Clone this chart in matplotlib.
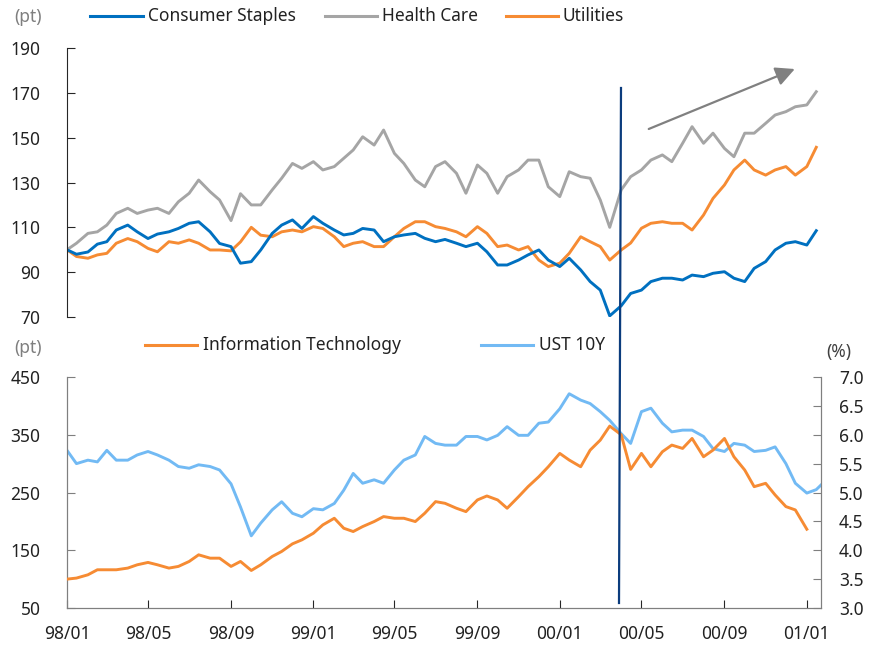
import numpy as np
import pandas as pd
import matplotlib
matplotlib.use("Agg")
import matplotlib.pyplot as plt
import matplotlib.dates as mdates
from matplotlib.lines import Line2D
from matplotlib.ticker import FormatStrFormatter

# semi-monthly observations, 98/01 .. 01/01
dates = pd.date_range("1998-01-01", periods=74, freq="SMS")
ust_dates = dates.append(pd.DatetimeIndex(["2001-01-22"]))

consumer_staples = [100, 98, 99, 102.5, 103.6, 108.8, 111, 108, 105, 107,
                    108, 109.5, 111.8, 112.5, 108, 102.8, 101.4, 94, 94.7, 99.9,
                    107.3, 111, 113.3, 109.5, 114.8, 111.8, 108.8, 106.6, 107.3, 109.5,
                    108.8, 103.6, 105.8, 106.6, 107.3, 105.1, 103.6, 104.6, 102.9, 101.4,
                    102.9, 99.1, 93.2, 93.2, 95.4, 97.7, 99.9, 95.4, 92.5, 96.2,
                    91.0, 85.8, 82.0, 70.5, 75, 80.5, 82, 85.8, 87.3, 87.3,
                    86.5, 88.7, 88, 89.5, 90.2, 87.3, 85.8, 91.7, 94.7, 99.9,
                    102.9, 103.6, 102.1, 108.5]

health_care = [100, 102.9, 107.3, 108, 111, 116.2, 118.5, 116.2, 117.7, 118.5,
               116.2, 121.4, 125.2, 131.1, 125.9, 122.2, 113, 125, 120, 120,
               126.7, 131.9, 138.5, 136.3, 139.3, 135.6, 137.1, 140.8, 144.5, 150.4,
               146.7, 153.4, 143, 138.5, 131.1, 128.1, 137.1, 139.3, 134.1, 125.2,
               137.8, 134.1, 125.2, 132.6, 135.6, 140, 140, 128.1, 123.7, 134.8,
               132.6, 131.9, 122.2, 110, 126.7, 132.6, 135.6, 140, 142.3, 139.3,
               147.5, 154.9, 147.5, 152, 145.2, 141.5, 152, 152, 156.4, 160.1,
               161.6, 163.8, 164.6, 170.5]

utilities = [100, 97, 96.2, 97.7, 98.4, 102.9, 105, 103.6, 100.6, 99.1,
             103.6, 102.9, 104.4, 102.9, 99.9, 99.9, 99.5, 103.5, 110, 106.5,
             105.8, 108, 108.8, 108, 110.3, 109.5, 105.8, 101.4, 102.9, 103.6,
             101.4, 101.4, 105.8, 109.5, 112.5, 112.5, 110.3, 109.5, 108, 105.8,
             110.3, 107.3, 101.4, 102.1, 99.9, 101.4, 95.4, 92.5, 94, 98.4,
             105.8, 103.6, 101.4, 95.4, 99.9, 103, 109.6, 111.8, 112.5, 111.8,
             111.8, 108.8, 115.5, 122.9, 128.9, 135.6, 140, 135.6, 133.3, 135.6,
             137.1, 133.3, 137.1, 145.7]

info_tech = [100, 101.8, 107.5, 116.2, 116.2, 116.2, 119.1, 124.8, 128.9, 124.8,
             119.1, 122, 130.6, 142.1, 136.3, 136.3, 122, 130.6, 115, 124.8,
             139.2, 147.9, 161.1, 168, 179.5, 193.9, 205.4, 188.1, 182.4, 191,
             199.7, 208.3, 205.4, 205.4, 199.7, 214.1, 234.2, 231.3, 222.7, 216.9,
             237.1, 244, 237.1, 222.7, 242.8, 260.1, 277.4, 294.6, 317.7, 306.2,
             294.6, 323.4, 340.7, 365, 350, 290, 317.7, 294.6, 320.6, 332.1,
             326.3, 343.6, 311.9, 323.4, 343.6, 311.9, 288.9, 260.1, 265.9, 245.8,
             225.6, 219.8, 186.4, np.nan]

ust_10y = [5.73, 5.50, 5.56, 5.53, 5.73, 5.56, 5.56, 5.65, 5.71, 5.65,
           5.56, 5.45, 5.42, 5.48, 5.45, 5.39, 5.15, 4.75, 4.25, 4.47,
           4.70, 4.84, 4.64, 4.58, 4.72, 4.70, 4.81, 5.04, 5.33, 5.16,
           5.22, 5.16, 5.39, 5.56, 5.65, 5.97, 5.85, 5.82, 5.82, 5.97,
           5.97, 5.91, 5.99, 6.14, 5.99, 5.99, 6.20, 6.22, 6.45, 6.71,
           6.60, 6.54, 6.40, 6.25, 6.02, 5.85, 6.40, 6.46, 6.20, 6.05,
           6.08, 6.08, 5.97, 5.76, 5.71, 5.85, 5.82, 5.71, 5.73, 5.79,
           5.50, 5.16, 4.99, 5.05, 5.13]

top_ticks = [70, 90, 110, 130, 150, 170, 190]
pt_ticks = [50, 150, 250, 350, 450]
pct_ticks = [3.0, 3.5, 4.0, 4.5, 5.0, 5.5, 6.0, 6.5, 7.0]

BLUE = "#0070C0"
GRAY = "#A5A5A5"
ORANGE = "#F68B33"
LIGHT_BLUE = "#72BAF4"
NAVY = "#0B3C7D"
TXT = "#222222"

plt.rcParams["font.family"] = ["Noto Sans", "DejaVu Sans"]
plt.rcParams["font.size"] = 12.5

W, H = 875, 650
fig = plt.figure(figsize=(W / 100, H / 100), dpi=100)


def fx(px):
    return px / W


def fy(py):
    return 1 - py / H


ax1 = fig.add_axes([fx(67), fy(317), fx(821) - fx(67), fy(48) - fy(317)])
ax2 = fig.add_axes([fx(67), fy(608), fx(821) - fx(67), fy(377) - fy(608)])
ax3 = ax2.twinx()

xmin, xmax = pd.Timestamp("1998-01-01"), pd.Timestamp("2001-01-22")

# top panel
ax1.plot(dates, health_care, color=GRAY, lw=2.1)
ax1.plot(dates, utilities, color=ORANGE, lw=2.1)
ax1.plot(dates, consumer_staples, color=BLUE, lw=2.1)
ax1.set_xlim(xmin, xmax)
ax1.set_ylim(70, 190)
ax1.set_yticks(top_ticks)
for s in ["top", "right", "bottom"]:
    ax1.spines[s].set_visible(False)
ax1.spines["left"].set_color("#262626")
ax1.tick_params(axis="x", bottom=False, labelbottom=False)
ax1.tick_params(axis="y", direction="in", length=6, pad=19, colors="#262626",
                labelcolor=TXT)

ax1.annotate("", xy=(pd.Timestamp("2000-12-18"), 181.1),
             xytext=(pd.Timestamp("2000-05-08"), 153.4),
             arrowprops=dict(arrowstyle="-|>,head_length=0.5,head_width=0.25",
                             color="#808080", lw=1.6, mutation_scale=23))

# bottom panel
ax3.plot(ust_dates, ust_10y, color=LIGHT_BLUE, lw=2.1)
ax2.plot(dates, info_tech, color=ORANGE, lw=2.1, zorder=3)
ax2.set_zorder(ax3.get_zorder() + 1)
ax2.patch.set_visible(False)

ax2.set_xlim(xmin, xmax)
ax2.set_ylim(50, 450)
ax2.set_yticks(pt_ticks)
ax3.set_ylim(3.0, 7.0)
ax3.set_yticks(pct_ticks)
ax3.yaxis.set_major_formatter(FormatStrFormatter("%.1f"))

ax2.xaxis.set_major_locator(mdates.MonthLocator(bymonth=[1, 5, 9]))
ax2.xaxis.set_major_formatter(mdates.DateFormatter("%y/%m"))

for a in (ax2, ax3):
    a.spines["top"].set_visible(False)
    for s in ["left", "right", "bottom"]:
        a.spines[s].set_color("#7F7F7F")
ax2.tick_params(axis="y", direction="in", length=6, pad=19, colors="#7F7F7F",
                labelcolor=TXT)
ax2.tick_params(axis="x", direction="in", length=6, pad=12, colors="#262626",
                labelcolor=TXT)
ax3.tick_params(axis="y", direction="in", length=6, pad=13, colors="#7F7F7F",
                labelcolor=TXT)

# legends / unit labels placed in pixel positions
def legend_entry(x0, x1, xt, y, label, color):
    fig.add_artist(Line2D([fx(x0), fx(x1)], [fy(y), fy(y)], color=color, lw=2.2,
                          transform=fig.transFigure))
    fig.text(fx(xt), fy(y), label, ha="left", va="center", color=TXT)


legend_entry(90, 143, 148, 16, "Consumer Staples", BLUE)
legend_entry(325, 377, 382, 16, "Health Care", GRAY)
legend_entry(506, 558, 563, 16, "Utilities", ORANGE)
legend_entry(145, 197, 203, 345, "Information Technology", ORANGE)
legend_entry(481, 533, 539, 345, "UST 10Y", LIGHT_BLUE)

fig.text(fx(42), fy(17), "(pt)", ha="right", va="center", color="#7F7F7F")
fig.text(fx(42), fy(348), "(pt)", ha="right", va="center", color="#7F7F7F")
fig.text(fx(826), fy(352), "(%)", ha="left", va="center", color="#404040")

# vertical marker across both panels
fig.add_artist(Line2D([fx(621), fx(619)], [fy(88), fy(603)], color=NAVY, lw=1.6,
                      transform=fig.transFigure))

fig.savefig("out.png", dpi=100)
